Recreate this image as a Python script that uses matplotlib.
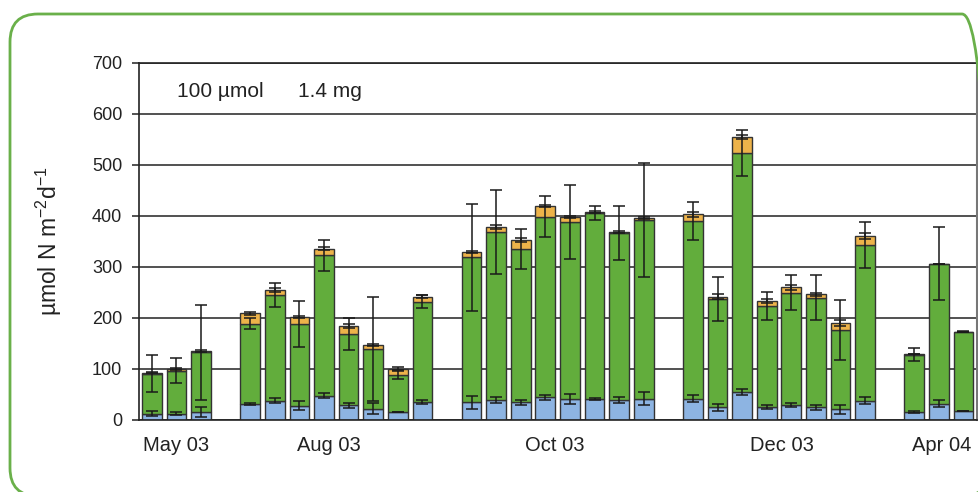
import matplotlib
matplotlib.use("Agg")
import matplotlib.pyplot as plt
from matplotlib.patches import FancyBboxPatch
from matplotlib.transforms import IdentityTransform

plt.rcParams['font.family'] = ['Liberation Sans', 'DejaVu Sans']

# Bar slots (groups separated by one empty slot)
slots = [0, 1, 2,
         4, 5, 6, 7, 8, 9, 10, 11,
         13, 14, 15, 16, 17, 18, 19, 20,
         22, 23, 24, 25, 26, 27, 28, 29,
         31, 32, 33]

blue = [11, 11, 15,
        30, 37, 27, 47, 28, 21, 14, 34,
        34, 38, 34, 44, 41, 41, 38, 41,
        41, 24, 54, 24, 28, 24, 20, 37,
        14, 31, 17]
green = [79, 85, 117,
         158, 207, 161, 275, 140, 117, 73, 197,
         284, 330, 301, 354, 347, 364, 327, 350,
         349, 212, 469, 199, 221, 215, 156, 306,
         113, 275, 155]
orange = [1.5, 2.5, 2,
          20, 10, 13, 13, 16, 9, 13, 10,
          10, 10, 17, 20, 10, 3, 3, 4,
          13, 5, 31, 9, 10, 7, 13, 17,
          1, 0, 0.5]

blue_err = [5, 3, 10,
            2.5, 5.5, 8.5, 5.5, 4.5, 11, 0, 3.5,
            13, 6.5, 5, 5, 10, 2, 6.5, 13,
            6.5, 6.5, 5, 4, 3.5, 5, 8.5, 6.5,
            2, 6.5, 0]
green_err = [37, 25, 93,
             11, 23, 45, 31, 32, 102, 8, 13,
             105, 82, 39, 40, 73, 13, 53, 112,
             37, 43, 45, 27, 34, 44, 59, 45,
             13, 72, 1]
orange_err = [1, 2, 2,
              3, 4, 2, 3, 4, 2, 3, 3,
              2, 4, 4, 2, 2, 2, 2, 2,
              5, 5, 4, 4, 5, 3, 6.5, 5,
              0, 0, 0]

group_labels = ['May 03', 'Aug 03', 'Oct 03', 'Dec 03', 'Apr 04']
group_label_pos = [1, 7.2, 16.4, 25.6, 32.1]

yticks = [0, 100, 200, 300, 400, 500, 600, 700]

c_blue = '#8DB4E2'
c_green = '#62AD3C'
c_orange = '#EDB34A'
c_edge = '#333333'

W, H = 979, 492
fig = plt.figure(figsize=(W / 100, H / 100), dpi=100)

# rounded green frame
frame = FancyBboxPatch((10, -4), 980, 482, boxstyle="round,pad=0,rounding_size=28",
                       transform=IdentityTransform(), facecolor='none',
                       edgecolor='#6AB04A', linewidth=2.0, zorder=0)
fig.patches.append(frame)

ax = fig.add_axes([139 / W, (H - 419.5) / H, (977 - 139) / W, (419.5 - 62.7) / H])
ax.set_facecolor('none')

cum_g = [b + g for b, g in zip(blue, green)]
cum_o = [c + o for c, o in zip(cum_g, orange)]

bw = 0.8
ax.bar(slots, blue, width=bw, color=c_blue, edgecolor=c_edge, linewidth=1.0, zorder=2)
ax.bar(slots, green, width=bw, bottom=blue, color=c_green, edgecolor=c_edge, linewidth=1.0, zorder=2)
ax.bar(slots, orange, width=bw, bottom=cum_g, color=c_orange, edgecolor=c_edge, linewidth=1.0, zorder=2)

ekw = dict(fmt='none', ecolor='#1a1a1a', elinewidth=1.1, capsize=4.2, capthick=1.1, zorder=3)
ax.errorbar(slots, blue, yerr=blue_err, **ekw)
ax.errorbar(slots, cum_g, yerr=green_err, **ekw)
ax.errorbar(slots, cum_o, yerr=orange_err, **ekw)

ax.set_xlim(-0.52, 33.55)
ax.set_ylim(0, 700)
ax.set_yticks(yticks)
ax.set_yticklabels([str(t) for t in yticks], fontsize=13)
ax.yaxis.grid(True, color='#333333', linewidth=1.2)
ax.set_axisbelow(True)
ax.tick_params(axis='y', direction='out', length=5, width=1.1, pad=7, colors='#222222')
ax.set_xticks(group_label_pos)
ax.set_xticklabels(group_labels, fontsize=14.5)
ax.tick_params(axis='x', length=0, pad=12, colors='#222222')

for s in ['left', 'bottom', 'top']:
    ax.spines[s].set_color('#222222')
    ax.spines[s].set_linewidth(1.2)
ax.spines['right'].set_color('#777777')
ax.spines['right'].set_linewidth(1.5)

ax.set_ylabel('µmol N m$^{\\mathregular{-2}}$d$^{\\mathregular{-1}}$', fontsize=16.5,
              labelpad=20, color='#222222')

ax.text(0.045, 0.905, '100 µmol', transform=ax.transAxes, fontsize=15, color='#222222')
ax.text(0.19, 0.905, '1.4 mg', transform=ax.transAxes, fontsize=15, color='#222222')

fig.savefig('out.png', dpi=100)
